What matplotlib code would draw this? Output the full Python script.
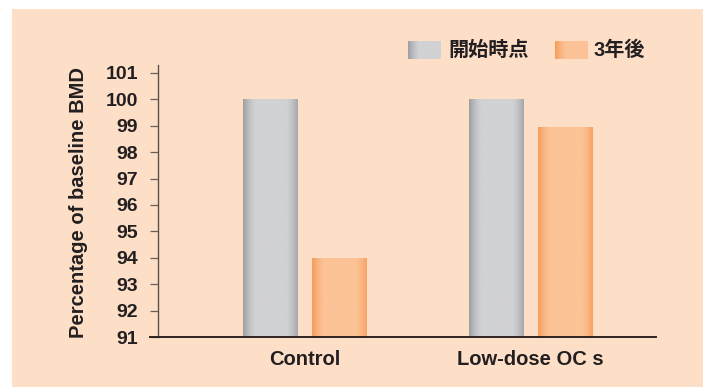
import matplotlib.pyplot as plt
import numpy as np
from matplotlib.patches import Rectangle

plt.rcParams['font.family'] = ['Liberation Sans', 'Noto Sans CJK JP']
plt.rcParams['font.weight'] = 'bold'

groups = ['Control', 'Low-dose OC s']
series_names = ['開始時点', '3年後']
baseline = [100.0, 100.03]
after_3y = [94.0, 98.95]
y_ticks = [91, 92, 93, 94, 95, 96, 97, 98, 99, 100, 101]

panel_color = '#fddfc8'
text_color = '#231f20'
# (middle, edge) colours of the shaded bars
gray_cols = ('#d1d2d4', '#9c9ea1')
orange_cols = ('#fcc397', '#f59c58')


def shade_profile(n=200):
    t = np.linspace(0, 1, n)
    left = np.clip(1 - t / 0.24, 0, 1) ** 1.6
    right = 0.85 * np.clip(1 - (1 - t) / 0.22, 0, 1) ** 1.6
    return np.maximum(left, right)


def gradient_row(cols, prof):
    mid = np.array(plt.matplotlib.colors.to_rgb(cols[0]))
    edge = np.array(plt.matplotlib.colors.to_rgb(cols[1]))
    return (mid[None, :] + (edge - mid)[None, :] * prof[:, None])[None, :, :]


fig = plt.figure(figsize=(7.11, 3.87), dpi=100, facecolor='white')
W, H = 711, 387
fig.patches.append(Rectangle((12 / W, 0), 691 / W, 378 / H, transform=fig.transFigure,
                             facecolor=panel_color, edgecolor='none', zorder=-10))

ax = fig.add_axes([150 / W, 50 / H, 506 / W, 272 / H])
ax.set_facecolor('none')

x = np.arange(len(groups))
bw = 0.239
off = 0.1527
b1 = ax.bar(x - off, np.array(baseline) - 91, bw, bottom=91, color=gray_cols[0], zorder=2)
b2 = ax.bar(x + off, np.array(after_3y) - 91, bw, bottom=91, color=orange_cols[0], zorder=2)

prof = shade_profile()
for bars, cols in ((b1, gray_cols), (b2, orange_cols)):
    img = gradient_row(cols, prof)
    for p in bars:
        x0, y0 = p.get_x(), p.get_y()
        im = ax.imshow(img, extent=(x0, x0 + p.get_width(), y0, y0 + p.get_height()),
                       aspect='auto', zorder=3, interpolation='bilinear')
        im.set_clip_path(p)

ax.set_xlim(-0.6836, 1.5553)
ax.set_ylim(91, 101.3)

for s in ['top', 'right']:
    ax.spines[s].set_visible(False)
ax.spines['left'].set_position(('data', -0.648))
ax.spines['left'].set_color('#5d5049')
ax.spines['left'].set_linewidth(1.0)
ax.spines['bottom'].set_color('#2e2320')
ax.spines['bottom'].set_linewidth(1.4)
ax.spines['bottom'].set_zorder(4)

ax.set_yticks(y_ticks)
ax.set_yticklabels([str(v) for v in y_ticks])
ax.tick_params(axis='y', direction='out', length=5.8, width=0.9, color='#6b5f58',
               labelsize=14, labelcolor=text_color, pad=8.5)
ax.set_xticks(x)
ax.set_xticklabels(groups)
ax.tick_params(axis='x', length=0, labelsize=14.5, labelcolor=text_color, pad=9.5)

fig.text(79 / W, 1 - 202 / H, 'Percentage of baseline BMD', rotation=90,
         ha='center', va='center', fontsize=14.5, color=text_color)

# legend swatches
leg_prof = np.clip(1 - np.linspace(0, 1, 200) / 0.35, 0, 1) ** 1.4
for (sx, tx, cols, name) in ((408, 448, gray_cols, series_names[0]),
                             (555, 593, orange_cols, series_names[1])):
    sw = fig.add_axes([sx / W, 1 - 59 / H, 33 / W, 18 / H])
    sw.imshow(gradient_row(cols, leg_prof), aspect='auto', interpolation='bilinear')
    sw.axis('off')
    fig.text(tx / W, 1 - 50 / H, name, ha='left', va='center', fontsize=14.5,
             color=text_color)

fig.savefig('out.png', dpi=100, facecolor='white')
